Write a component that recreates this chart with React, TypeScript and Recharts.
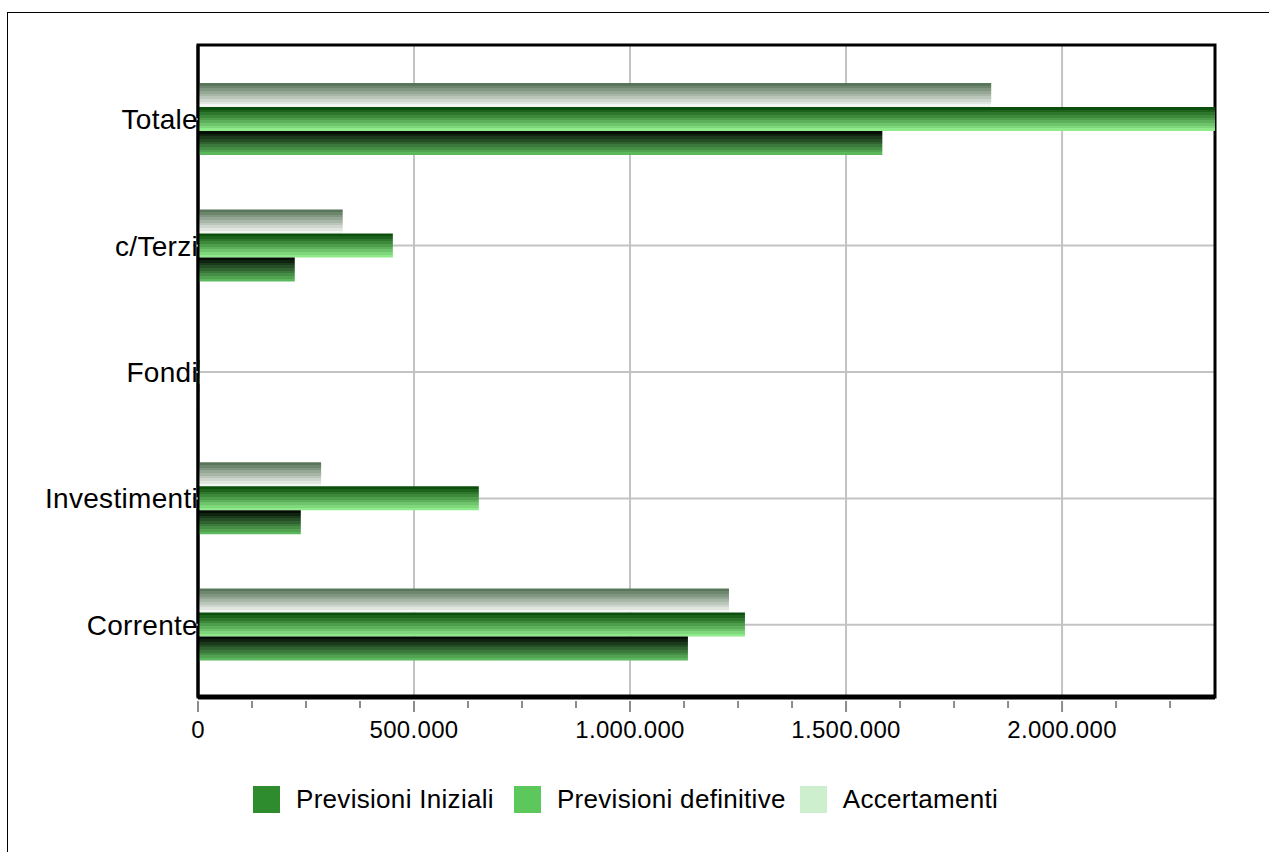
import React from 'react';
import { BarChart, Bar, XAxis, YAxis, CartesianGrid, usePlotArea } from 'recharts';

const CATEGORIES = ['Totale', 'c/Terzi', 'Fondi', 'Investimenti', 'Corrente'];
const PREVISIONI_INIZIALI = [1584000, 224000, 3000, 238000, 1134000];
const PREVISIONI_DEFINITIVE = [2354000, 451000, 4000, 650000, 1266000];
const ACCERTAMENTI = [1836000, 335000, 2000, 285000, 1229000];
const SERIES_NAMES = ['Previsioni Iniziali', 'Previsioni definitive', 'Accertamenti'];
const X_TICKS = [0, 125000, 250000, 375000, 500000, 625000, 750000, 875000, 1000000, 1125000, 1250000, 1375000, 1500000, 1625000, 1750000, 1875000, 2000000, 2125000, 2250000];
const X_LABELED = [0, 500000, 1000000, 1500000, 2000000];

const LEGEND_COLORS = ['#2e8b2e', '#5cc85c', '#cdefcd'];
const FONT = '"Liberation Sans", Arial, Helvetica, sans-serif';

const data = CATEGORIES.map((c, i) => ({
  name: c,
  iniziali: PREVISIONI_INIZIALI[i],
  definitive: PREVISIONI_DEFINITIVE[i],
  accertamenti: ACCERTAMENTI[i],
}));

function fmt(v: number): string {
  return String(v).replace(/\B(?=(\d{3})+(?!\d))/g, '.');
}

function hexToRgb(h: string) {
  const n = parseInt(h.slice(1), 16);
  return [(n >> 16) & 255, (n >> 8) & 255, n & 255];
}
function mix(a: string, b: string, t: number) {
  const A = hexToRgb(a), B = hexToRgb(b);
  const c = A.map((v, i) => Math.round(v + (B[i] - v) * t));
  return `rgb(${c[0]},${c[1]},${c[2]})`;
}

function BandGradient({ id, top, bottom, n }: { id: string; top: string; bottom: string; n: number }) {
  const stops: any[] = [];
  for (let i = 0; i < n; i++) {
    const col = mix(top, bottom, i / (n - 1));
    stops.push(<stop key={`a${i}`} offset={`${(i / n) * 100}%`} stopColor={col} />);
    stops.push(<stop key={`b${i}`} offset={`${((i + 1) / n) * 100}%`} stopColor={col} />);
  }
  return (
    <linearGradient id={id} x1="0" y1="0" x2="0" y2="1">
      {stops}
    </linearGradient>
  );
}

function PlotBorder() {
  const area: any = usePlotArea();
  if (!area) return null;
  return (
    <rect x={area.x} y={area.y} width={area.width} height={area.height} fill="none" stroke="#000" strokeWidth={3} />
  );
}

function XTick(props: any) {
  const { x, y, payload } = props;
  const v = payload.value;
  const major = X_LABELED.includes(v);
  return (
    <g>
      <line x1={x} x2={x} y1={y + 4} y2={y + (major ? 15 : 11)} stroke="#8c8c8c" strokeWidth={2} />
      {major && (
        <text x={x} y={y + 41} textAnchor="middle" fontSize={24} letterSpacing={0.3} fill="#000" fontFamily={FONT}>
          {fmt(v)}
        </text>
      )}
    </g>
  );
}

function YTick(props: any) {
  const { x, y, payload } = props;
  return (
    <text x={x + 5} y={y + 10} textAnchor="end" fontSize={28} letterSpacing={0.3} fill="#000" fontFamily={FONT}>
      {payload.value}
    </text>
  );
}

export default function App() {
  return (
    <div style={{ position: 'fixed', left: 0, top: 0, width: 1269, height: 852, overflow: 'hidden', background: '#fff' }}>
      <div style={{ position: 'absolute', left: 7, top: 12, width: 1300, height: 900, border: '1px solid #000' }} />
      <div style={{ position: 'absolute', left: 0, top: 0 }}>
        <BarChart
          width={1269}
          height={852}
          data={data}
          layout="vertical"
          margin={{ top: 45, right: 54, left: 8, bottom: 115 }}
          barSize={24}
          barGap={0}
        >
          <defs>
            <BandGradient id="gIni" top="#050e05" bottom="#5cb85c" n={9} />
            <BandGradient id="gDef" top="#0c4f0c" bottom="#8eea8a" n={9} />
            <BandGradient id="gAcc" top="#5a765a" bottom="#f4f6f4" n={9} />
          </defs>
          <CartesianGrid stroke="#c3c3c3" strokeWidth={2} verticalValues={X_LABELED.slice(1)} />
          <XAxis
            type="number"
            domain={[0, 'dataMax']}
            ticks={X_TICKS}
            interval={0}
            height={40}
            tickSize={0}
            tickMargin={0}
            tickLine={false}
            tick={<XTick />}
            axisLine={{ stroke: '#000', strokeWidth: 5 }}
          />
          <YAxis
            type="category"
            dataKey="name"
            width={190}
            padding={{ top: 11, bottom: 9 }}
            tickSize={5}
            tickMargin={0}
            tickLine={{ stroke: '#a8a8a8', strokeWidth: 2 }}
            tick={<YTick />}
            axisLine={{ stroke: '#000', strokeWidth: 3 }}
          />
          <Bar dataKey="accertamenti" name={SERIES_NAMES[2]} fill="url(#gAcc)" isAnimationActive={false} />
          <Bar dataKey="definitive" name={SERIES_NAMES[1]} fill="url(#gDef)" isAnimationActive={false} />
          <Bar dataKey="iniziali" name={SERIES_NAMES[0]} fill="url(#gIni)" isAnimationActive={false} />
          <PlotBorder />
        </BarChart>
      </div>
      <div
        style={{
          position: 'absolute',
          left: 253,
          top: 786,
          display: 'flex',
          alignItems: 'center',
          fontFamily: FONT,
          fontSize: 26,
          color: '#000',
          whiteSpace: 'nowrap',
        }}
      >
        {SERIES_NAMES.map((n, i) => (
          <div key={n} style={{ display: 'flex', alignItems: 'center', marginRight: i === 0 ? 20 : 14 }}>
            <div style={{ width: 27, height: 27, background: LEGEND_COLORS[i], marginRight: 16 }} />
            <span style={{ lineHeight: '27px', letterSpacing: 0.3 }}>{n}</span>
          </div>
        ))}
      </div>
    </div>
  );
}
